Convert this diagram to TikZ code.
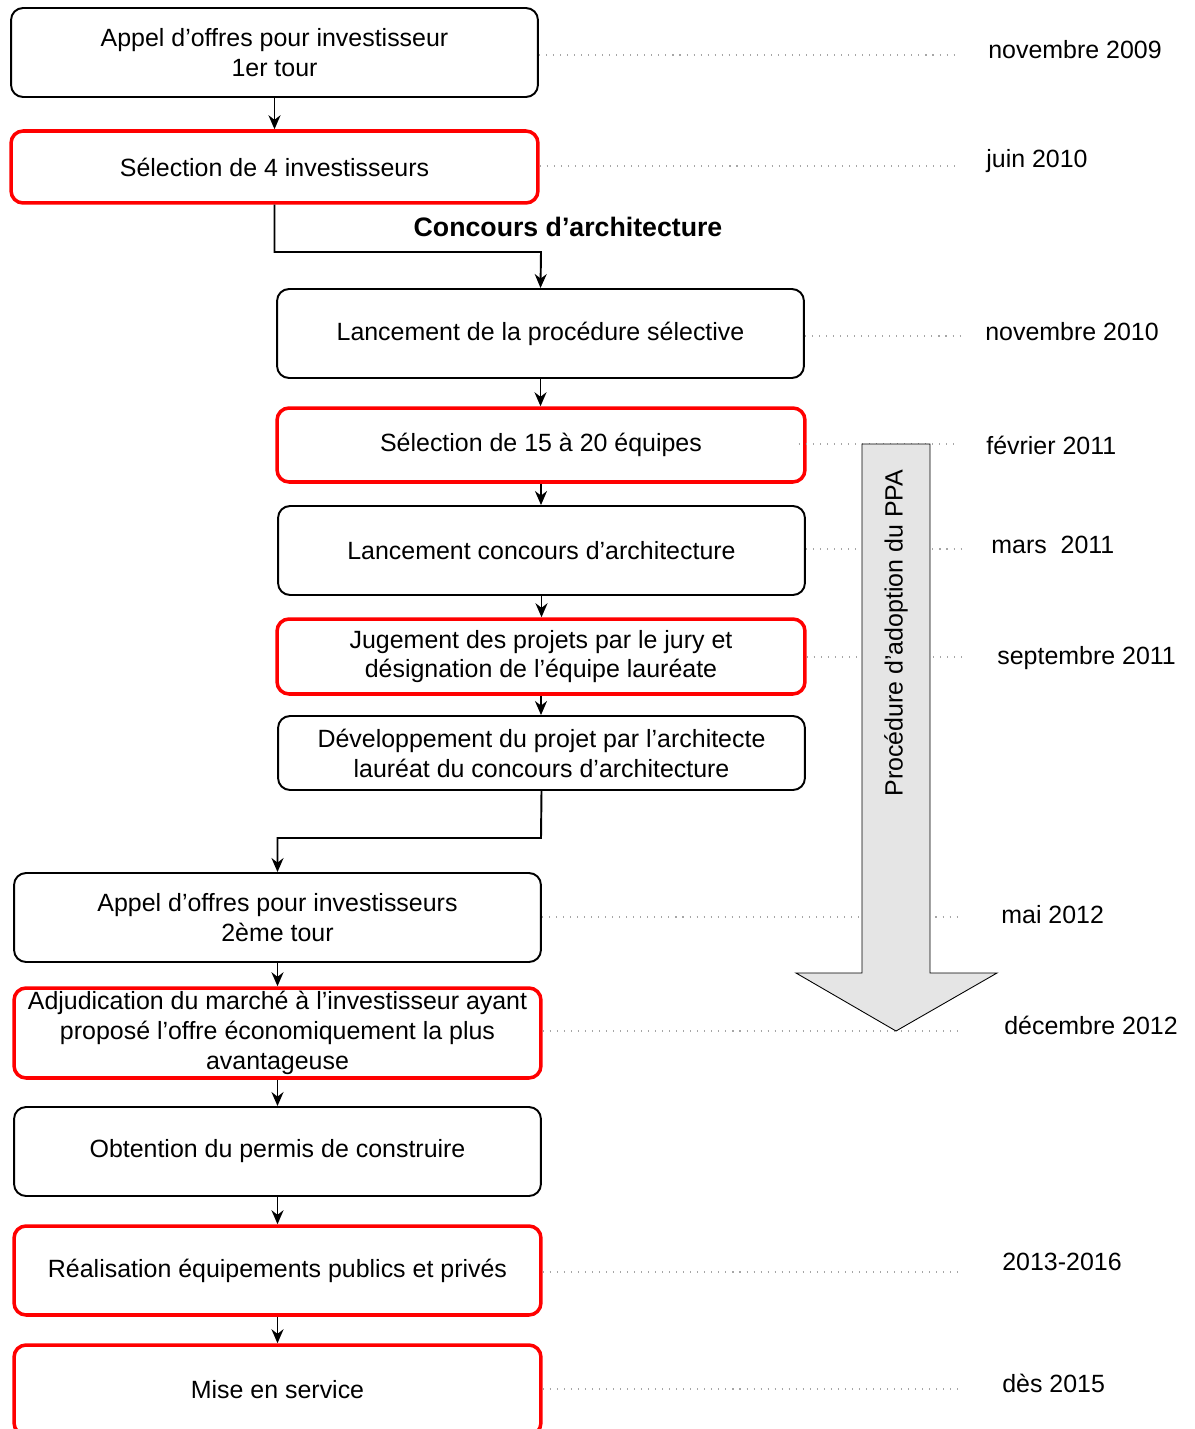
\documentclass[tikz,border=0pt]{standalone}
\usepackage{fontspec}
\setmainfont{Liberation Sans}
\usetikzlibrary{arrows.meta}
\tikzset{
  box/.style={draw=black, rounded corners=0.24cm, line width=1.1pt, minimum width=10.54cm, minimum height=1.78cm, align=center, inner sep=0pt, font=\fontsize{14.2}{17}\selectfont, fill=white},
  redbox/.style={box, draw=red, line width=2pt},
  arr/.style={-{Stealth[length=0.28cm,width=0.24cm]}, line width=1.1pt},
  dotline/.style={gray!70, line width=0.6pt, dash pattern=on 0.6pt off 3.4pt},
  datelbl/.style={anchor=west, inner sep=0pt, font=\fontsize{14.2}{17}\selectfont},
}
\begin{document}
\begin{tikzpicture}[x=0.02cm,y=-0.02cm]
\useasboundingbox (0,0) rectangle (1195,1429);
% boxes
\node[box, minimum height=1.78cm] (b1) at (274.5,52.5) {Appel d’offres pour investisseur\\1er tour};
\node[redbox, minimum height=1.44cm] (b2) at (274.5,167) {Sélection de 4 investisseurs};
\node[box] (b3) at (540.5,333.5) {Lancement de la procédure sélective};
\node[redbox, minimum height=1.48cm, minimum width=10.56cm] (b4) at (541,445) {Sélection de 15 à 20 équipes};
\node[box] (b5) at (541.5,550.5) {Lancement concours d’architecture};
\node[redbox, minimum height=1.5cm, minimum width=10.56cm] (b6) at (541,656.5) {Jugement des projets par le jury et\\désignation de l’équipe lauréate};
\node[box, minimum height=1.48cm] (b7) at (541.5,753) {Développement du projet par l’architecte\\lauréat du concours d’architecture};
\node[box] (b8) at (277.5,917.5) {Appel d’offres pour investisseurs\\2ème tour};
\node[redbox, minimum height=1.8cm] (b9) at (277.5,1033) {Adjudication du marché à l’investisseur ayant\\proposé l’offre économiquement la plus\\avantageuse};
\node[box] (b10) at (277.5,1151.5) {Obtention du permis de construire};
\node[redbox] (b11) at (277.5,1270.5) {Réalisation équipements publics et privés};
\node[redbox, minimum height=1.8cm] (b12) at (277.5,1390) {Mise en service};

\node[font=\fontsize{15.2}{18}\selectfont\bfseries, inner sep=0pt] (title) at (568,227) {Concours d’architecture};

% dates
\node[datelbl] (d1) at (988,50) {novembre 2009};
\node[datelbl] (d2) at (986,161) {juin 2010};
\node[datelbl] (d3) at (985,332) {novembre 2010};
\node[datelbl] (d4) at (986,445) {février 2011};
\node[datelbl] (d5) at (991,545) {mars\ \ 2011};
\node[datelbl] (d6) at (997,658) {septembre 2011};
\node[datelbl] (d7) at (1001,915) {mai 2012};
\node[datelbl] (d8) at (1004,1025) {décembre 2012};
\node[datelbl] (d9) at (1002,1262) {2013-2016};
\node[datelbl] (d10) at (1002,1383) {dès 2015};

% dotted guide lines
\coordinate (e1) at (960,55);
\coordinate (e2) at (960,166);
\coordinate (e3) at (966,336);
\coordinate (e4) at (960,444);
\coordinate (e5) at (966,549);
\coordinate (e6) at (966,657);
\coordinate (e7) at (960,917);
\coordinate (e8) at (960,1031);
\coordinate (e9) at (960,1272);
\coordinate (e10) at (960,1389);
\draw[dotline] (b1.east |- e1) -- (e1);
\draw[dotline] (b2.east |- e2) -- (e2);
\draw[dotline] (b3.east |- e3) -- (e3);
\draw[dotline] ([xshift=-0.16cm]b4.east |- e4) -- (e4);
\draw[dotline] (b5.east |- e5) -- (e5);
\draw[dotline] (b6.east |- e6) -- (e6);
\draw[dotline] (b8.east |- e7) -- (e7);
\draw[dotline] (b9.east |- e8) -- (e8);
\draw[dotline] (b11.east |- e9) -- (e9);
\draw[dotline] (b12.east |- e10) -- (e10);

% big arrow
\draw[fill=black!10, line width=0.5pt] (862,444) -- (930,444) -- (930,973) -- (997,973) -- (896,1031) -- (796,973) -- (862,973) -- cycle;
\node[rotate=90, inner sep=0pt, font=\fontsize{14.2}{17}\selectfont] (ppa) at (896,633) {Procédure d’adoption du PPA};

% connectors
\coordinate (k1) at (541,252);
\coordinate (k2) at (541,838);
\draw[arr] (b1) -- (b2);
\draw[arr] (b2.south) |- (k1) -- (b3.north);
\draw[arr] (b3.south) -- (b3.south |- b4.north);
\draw[arr] (b4.south) -- (b4.south |- b5.north);
\draw[arr] (b5.south) -- (b5.south |- b6.north);
\draw[arr] (b6.south) -- (b6.south |- b7.north);
\draw[arr] (b7.south) -- (k2) -| (b8.north);
\draw[arr] (b8.south) -- (b9.north);
\draw[arr] (b9.south) -- (b10.north);
\draw[arr] (b10.south) -- (b11.north);
\draw[arr] (b11.south) -- (b12.north);
\end{tikzpicture}
\end{document}
